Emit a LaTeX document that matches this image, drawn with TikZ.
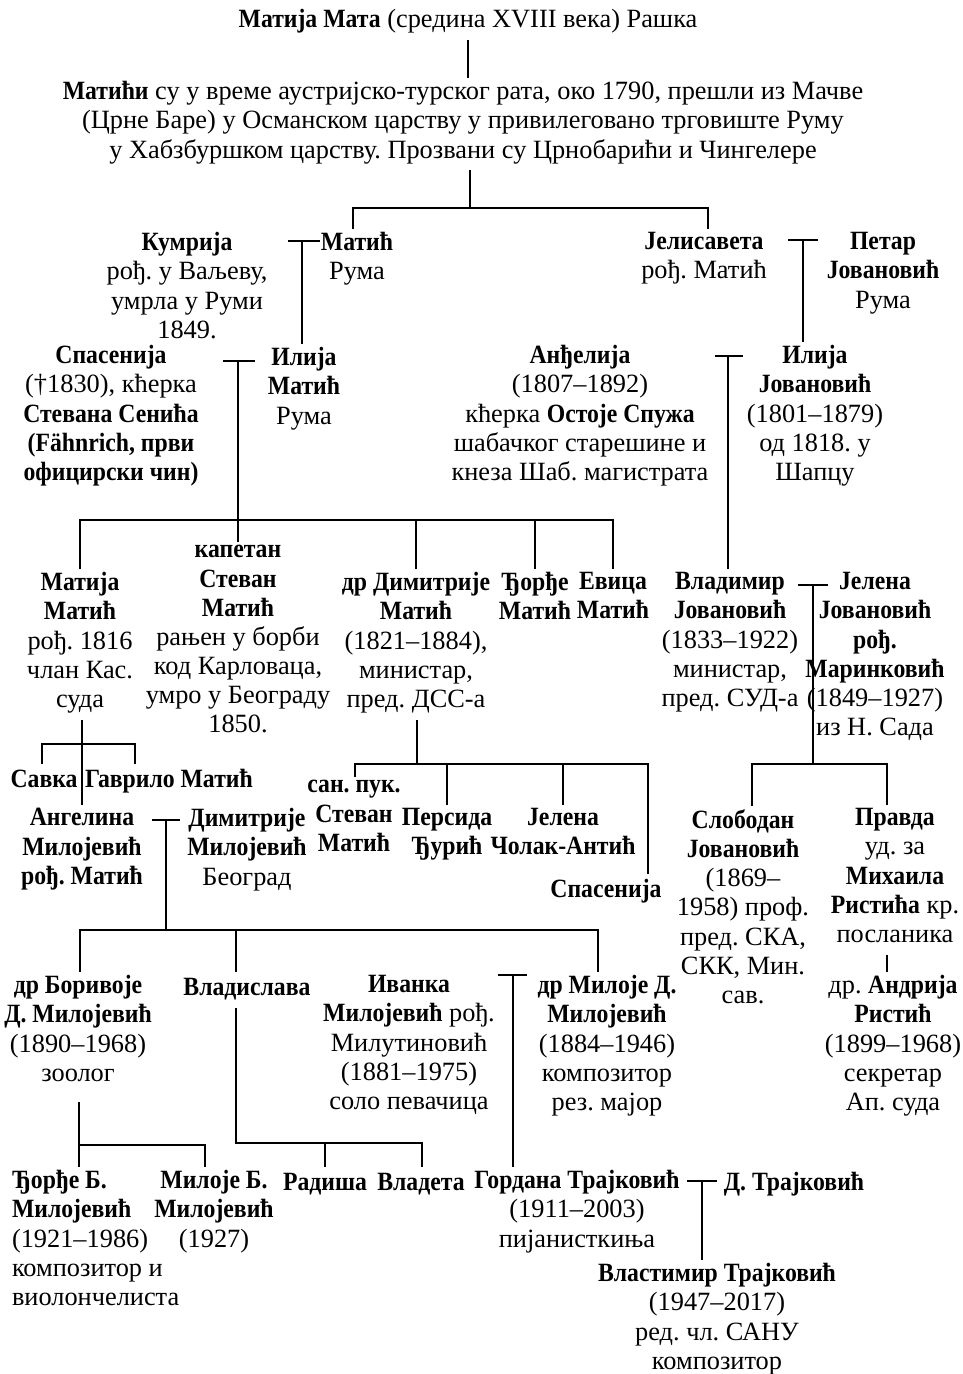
\documentclass[tikz,border=0pt]{standalone}
\usepackage{fontspec}
\setmainfont{Liberation Serif}[BoldFeatures={FakeStretch=0.9}]
\usepackage{tikz}
\frenchspacing

\tikzset{
  famline/.style={line width=0.8pt},
  person/.style={align=center, anchor=north, inner sep=0pt, outer xsep=0pt, outer ysep=2pt,
    font=\fontsize{15}{16.6}\selectfont, execute at begin node=\strut},
}

\begin{document}
\begin{tikzpicture}[x=0.02cm, y=-0.02cm]
			\fill[white] (0,0) rectangle (963,1374);
			\useasboundingbox (0,0) rectangle (963,1374);
			% people
			\node[person] (mata) at (468,4) {\textbf{Матија Мата} (средина XVIII века) Рашка};
			\node[person] (matici) at (463,78) {\textbf{Матићи} су у време аустријско-турског рата, око 1790, прешли из Мачве\\(Црне Баре) у Османском царству у привилеговано трговиште Руму\\у Хабзбуршком царству. Прозвани су Црнобарићи и Чингелере};
			\node[person] (kumrija) at (187,229) {\textbf{Кумрија}\\рођ. у Ваљеву,\\умрла у Руми\\1849.};
			\node[person] (matic) at (357,229) {\textbf{Матић}\\Рума};
			\node[person] (jelisaveta) at (704,229) {\textbf{Јелисавета}\\рођ. Матић};
			\node[person] (petar) at (883,229) {\textbf{Петар}\\\textbf{Јовановић}\\Рума};
			\node[person] (spasenija) at (111,342) {\textbf{Спасенија}\\(†1830), кћерка\\\textbf{Стевана Сенића}\\\textbf{(Fähnrich, први}\\\textbf{официрски чин)}};
			\node[person] (ilijam) at (304,344) {\textbf{Илија}\\\textbf{Матић}\\Рума};
			\node[person] (andjelija) at (580,342) {\textbf{Анђелија}\\(1807–1892)\\кћерка \textbf{Остоје Спужа}\\шабачког старешине и\\кнеза Шаб. магистрата};
			\node[person] (ilijaj) at (815,342) {\textbf{Илија}\\\textbf{Јовановић}\\(1801–1879)\\од 1818. у\\Шапцу};
			\node[person] (matija) at (80,569) {\textbf{Матија}\\\textbf{Матић}\\рођ. 1816\\члан Кас.\\суда};
			\node[person] (stevan) at (238,542) {\textbf{капетан}\\\textbf{Стеван}\\\textbf{Матић}\\рањен у борби\\код Карловаца,\\умро у Београду\\1850.};
			\node[person] (dimitrije) at (416,569) {\textbf{др Димитрије}\\\textbf{Матић}\\(1821–1884),\\министар,\\пред. ДСС-а};
			\node[person] (djordje) at (535,569) {\textbf{Ђорђе}\\\textbf{Матић}};
			\node[person] (evica) at (613,569) {\textbf{Евица}\\\textbf{Матић}};
			\node[person] (vladimir) at (730,569) {\textbf{Владимир}\\\textbf{Јовановић}\\(1833–1922)\\министар,\\пред. СУД-а};
			\node[person] (jelena) at (875,569) {\textbf{Јелена}\\\textbf{Јовановић}\\\textbf{рођ.}\\\textbf{Маринковић}\\(1849–1927)\\из Н. Сада};
			\node[person] (savka) at (44,764) {\textbf{Савка}};
			\node[person, anchor=north west] (gavrilo) at (85,764) {\textbf{Гаврило Матић}};
			\node[person] (angelina) at (82,805) {\textbf{Ангелина}\\\textbf{Милојевић}\\\textbf{рођ. Матић}};
			\node[person] (dimmil) at (247,805) {\textbf{Димитрије}\\\textbf{Милојевић}\\Београд};
			\node[person] (sanpuk) at (354,777) {\textbf{сан. пук.}\\\textbf{Стеван}\\\textbf{Матић}};
			\node[person] (persida) at (447,805) {\textbf{Персида}\\\textbf{Ђурић}};
			\node[person] (jelenach) at (563,805) {\textbf{Јелена}\\\textbf{Чолак-Антић}};
			\node[person] (spasenija2) at (606,874) {\textbf{Спасенија}};
			\node[person] (slobodan) at (743,806) {\textbf{Слободан}\\\textbf{Јовановић}\\(1869–\\1958) проф.\\пред. СКА,\\СКК, Мин.\\сав.};
			\node[person] (pravda) at (895,805) {\textbf{Правда}\\уд. за\\\textbf{Михаила}\\\textbf{Ристића} кр.\\посланика};
			\node[person] (andrija) at (893,972) {др. \textbf{Андрија}\\\textbf{Ристић}\\(1899–1968)\\секретар\\Ап. суда};
			\node[person] (borivoje) at (78,972) {\textbf{др Боривоје}\\\textbf{Д. Милојевић}\\(1890–1968)\\зоолог};
			\node[person] (vladislava) at (247,972) {\textbf{Владислава}};
			\node[person] (ivanka) at (409,972) {\textbf{Иванка}\\\textbf{Милојевић} рођ.\\Милутиновић\\(1881–1975)\\соло певачица};
			\node[person] (miloje) at (607,972) {\textbf{др Милоје Д.}\\\textbf{Милојевић}\\(1884–1946)\\композитор\\рез. мајор};
			\node[person, anchor=north west, align=left] (djordjeb) at (12,1167) {\textbf{Ђорђе Б.}\\\textbf{Милојевић}\\(1921–1986)\\композитор и\\виолончелиста};
			\node[person] (milojeb) at (214,1167) {\textbf{Милоје Б.}\\\textbf{Милојевић}\\(1927)};
			\node[person] (radisa) at (325,1167) {\textbf{Радиша}};
			\node[person] (vladeta) at (421,1167) {\textbf{Владета}};
			\node[person] (gordana) at (577,1167) {\textbf{Гордана Трајковић}\\(1911–2003)\\пијанисткиња};
			\node[person] (dtrajk) at (794,1167) {\textbf{Д. Трајковић}};
			\node[person] (vlastimir) at (717,1260) {\textbf{Властимир Трајковић}\\(1947–2017)\\ред. чл. САНУ\\композитор};
			% junctions
			\coordinate (jA) at (470,208);
			\coordinate (jAl) at (353,208);
			\coordinate (jAr) at (708,208);
			\coordinate (mKM) at (302,241);
			\coordinate (mJP) at (803,240);
			\coordinate (mSI) at (238,361);
			\coordinate (jB) at (238,520);
			\coordinate (mAI) at (728,356);
			\coordinate (mVJ) at (813,585);
			\coordinate (jC) at (813,764);
			\coordinate (jCl) at (752,764);
			\coordinate (jCr) at (887,764);
			\coordinate (jD) at (82,744);
			\coordinate (jDl) at (42,744);
			\coordinate (jDr) at (135,744);
			\coordinate (jF) at (417,764);
			\coordinate (jFl) at (355,764);
			\coordinate (jFr) at (648,764);
			\coordinate (mAD) at (166,820);
			\coordinate (jE) at (166,930);
			\coordinate (jEl) at (80,930);
			\coordinate (jEr) at (598,930);
			\coordinate (mIM) at (513,975);
			\coordinate (jGt) at (79,1102);
			\coordinate (jG) at (79,1145);
			\coordinate (jGr) at (205,1145);
			\coordinate (jH) at (236,1143);
			\coordinate (jHr) at (422,1143);
			\coordinate (mGD) at (702,1181);
			% descent lines
			\draw[famline] (mata.south) -- (mata.south |- matici.north);
			\draw[famline] (jA |- matici.south) -- (jA);
			\draw[famline] (jAl |- matic.north) |- (jAr) -- (jAr |- jelisaveta.north);
			\draw[famline] ([xshift=-0.28cm]mKM) -- ([xshift=0.36cm]mKM);
			\draw[famline] (mKM) -- (mKM |- ilijam.north);
			\draw[famline] ([xshift=-0.3cm]mJP) -- ([xshift=0.3cm]mJP);
			\draw[famline] (mJP) -- (mJP |- ilijaj.north);
			\draw[famline] ([xshift=-0.3cm]mSI) -- ([xshift=0.34cm]mSI);
			\draw[famline] (mSI) -- (stevan.north);
			\draw[famline] (matija.north) |- (evica.north |- jB) -- (evica.north);
			\draw[famline] (dimitrije.north) -- (dimitrije.north |- jB);
			\draw[famline] (djordje.north) -- (djordje.north |- jB);
			\draw[famline] ([xshift=-0.26cm]mAI) -- ([xshift=0.3cm]mAI);
			\draw[famline] (mAI) -- (mAI |- vladimir.north);
			\draw[famline] ([xshift=-0.3cm]mVJ) -- ([xshift=0.3cm]mVJ);
			\draw[famline] (mVJ) -- (jC);
			\draw[famline] (jCl |- slobodan.north) |- (jCr) -- (jCr |- pravda.north);
			\draw[famline] (jCr |- pravda.south) -- (jCr |- andrija.north);
			\draw[famline] (jD |- matija.south) -- (jD |- angelina.north);
			\draw[famline] (jDl |- savka.north) |- (jDr) -- (jDr |- gavrilo.north);
			\draw[famline] (jF |- dimitrije.south) -- (jF);
			\draw[famline] (jFl |- sanpuk.north) |- (jFr) -- (jFr |- spasenija2.north);
			\draw[famline] (persida.north) -- (persida.north |- jF);
			\draw[famline] (jelenach.north) -- (jelenach.north |- jF);
			\draw[famline] ([xshift=-0.28cm]mAD) -- ([xshift=0.28cm]mAD);
			\draw[famline] (mAD) -- (jE);
			\draw[famline] (jEl |- borivoje.north) |- (jEr) -- (jEr |- miloje.north);
			\draw[famline] (jH |- jE) -- (jH |- vladislava.north);
			\draw[famline] ([xshift=-0.3cm]mIM) -- ([xshift=0.28cm]mIM);
			\draw[famline] (mIM) -- (mIM |- gordana.north);
			\draw[famline] (jGt) -- (jG |- djordjeb.north);
			\draw[famline] (jG) -- (jGr) -- (jGr |- milojeb.north);
			\draw[famline] (jH |- vladislava.south) -- (jH) -- (jHr) -- (jHr |- vladeta.north);
			\draw[famline] (radisa.north) -- (radisa.north |- jH);
			\draw[famline] ([xshift=-0.3cm]mGD) -- ([xshift=0.3cm]mGD);
			\draw[famline] (mGD) -- (mGD |- vlastimir.north);
		\end{tikzpicture}
\end{document}
